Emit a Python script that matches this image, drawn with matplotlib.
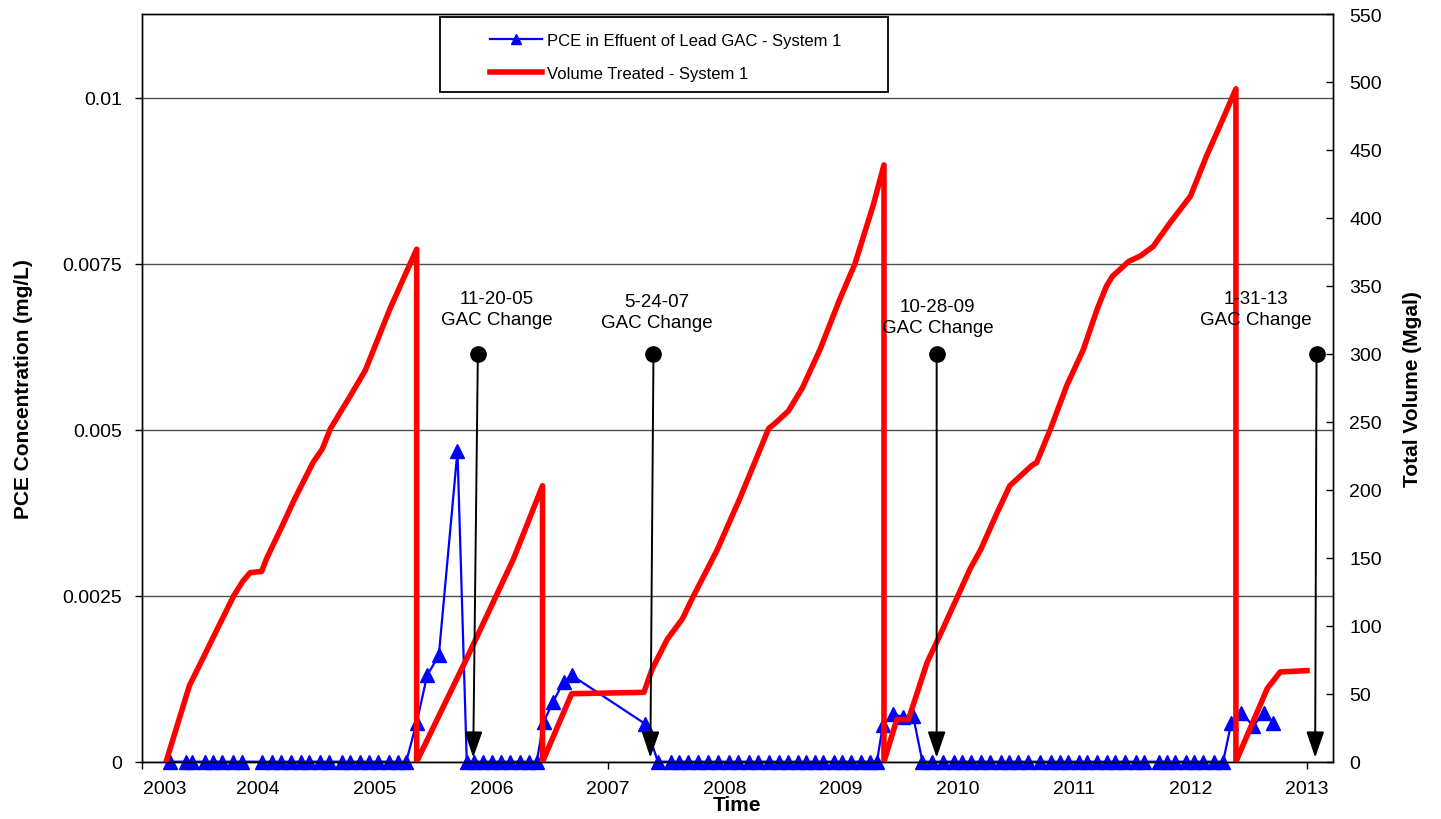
import numpy as np
import matplotlib
matplotlib.use("Agg")
import matplotlib.pyplot as plt
from matplotlib.patches import Rectangle
from matplotlib.transforms import ScaledTranslation

plt.rcParams['font.family'] = ['Liberation Sans', 'DejaVu Sans']

# PCE in effluent of lead GAC (decimal year, mg/L)
pce_years = [2003.24, 2003.38, 2003.43, 2003.54, 2003.61, 2003.69, 2003.78, 2003.86,
             2004.03, 2004.12, 2004.20, 2004.28, 2004.37, 2004.44, 2004.53, 2004.61,
             2004.72, 2004.79, 2004.87, 2004.95, 2005.03, 2005.12, 2005.20, 2005.27,
             2005.36, 2005.45, 2005.55, 2005.71,
             2005.79, 2005.85, 2005.93, 2006.01, 2006.08, 2006.16, 2006.25, 2006.32, 2006.39,
             2006.45, 2006.53, 2006.62, 2006.69, 2007.32,
             2007.43, 2007.54, 2007.61, 2007.69, 2007.77, 2007.86, 2007.95, 2008.04,
             2008.12, 2008.21, 2008.29, 2008.38, 2008.47, 2008.55, 2008.63, 2008.70,
             2008.78, 2008.85, 2008.94, 2009.01, 2009.09, 2009.17, 2009.25, 2009.31,
             2009.36, 2009.45, 2009.53, 2009.62,
             2009.70, 2009.78, 2009.88, 2009.97, 2010.04, 2010.12, 2010.20, 2010.28,
             2010.37, 2010.44, 2010.52, 2010.61, 2010.71, 2010.80, 2010.88, 2010.95,
             2011.04, 2011.11, 2011.20, 2011.28, 2011.35, 2011.44, 2011.53, 2011.60,
             2011.73, 2011.80, 2011.87, 2011.96, 2012.03, 2012.11, 2012.20, 2012.28,
             2012.35, 2012.43, 2012.54, 2012.63, 2012.71]
pce_conc = [0]*24 + [0.00059, 0.0013, 0.0016, 0.00468] + [0]*9 + \
           [0.0006, 0.0009, 0.0012, 0.0013, 0.00057] + [0]*24 + \
           [0.00055, 0.00072, 0.00067, 0.00069] + [0]*32 + \
           [0.00058, 0.00074, 0.00054, 0.00074, 0.00059]

# volume treated (decimal year, Mgal)
vol_years = [2003.21, 2003.41, 2003.52, 2003.64, 2003.79, 2003.87, 2003.93, 2004.03,
             2004.07, 2004.22, 2004.30, 2004.47, 2004.55, 2004.62, 2004.79, 2004.92,
             2005.13, 2005.36, 2005.36,
             2005.79, 2006.19, 2006.44, 2006.44,
             2006.69, 2007.31, 2007.38, 2007.51, 2007.64, 2007.73, 2007.94, 2008.14,
             2008.38, 2008.45, 2008.55, 2008.67, 2008.82, 2008.99, 2009.12, 2009.28,
             2009.37, 2009.37,
             2009.48, 2009.58, 2009.74, 2009.85, 2010.02, 2010.11, 2010.20, 2010.34,
             2010.45, 2010.64, 2010.68, 2010.80, 2010.94, 2011.08, 2011.20, 2011.28,
             2011.33, 2011.47, 2011.57, 2011.68, 2011.83, 2012.00, 2012.14, 2012.28,
             2012.39, 2012.39,
             2012.66, 2012.77, 2013.00]
vol_mgal = [0, 56, 75, 96, 122, 133, 139, 140,
            149, 176, 191, 220, 230, 245, 269, 288,
            333, 377, 0,
            76, 149, 203, 0,
            50, 51, 68, 90, 105, 121, 156, 195,
            245, 250, 258, 275, 303, 340, 366, 410,
            439, 0,
            31, 31, 73, 93, 125, 142, 156, 183,
            203, 218, 220, 245, 277, 303, 333, 350,
            357, 368, 372, 379, 397, 416, 446, 473,
            495, 0,
            54, 66, 67]

# GAC change events
gac_labels = ['11-20-05', '5-24-07', '10-28-09', '1-31-13']
gac_years = [2005.885, 2007.392, 2009.822, 2013.082]
gac_tips = [2005.845, 2007.365, 2009.822, 2013.07]
gac_text_x = [2006.05, 2007.42, 2009.83, 2012.56]
gac_text_y = [333, 331, 327, 333]

year_ticks = list(range(2003, 2014))
conc_ticks = [0, 0.0025, 0.005, 0.0075, 0.01]
conc_labels = ['0', '0.0025', '0.005', '0.0075', '0.01']
vol_ticks = list(range(0, 551, 50))

fig = plt.figure(figsize=(14.41, 8.2), dpi=100)
ax = fig.add_axes([0.0983, 0.0699, 0.8265, 0.9118])
ax2 = ax.twinx()

l1, = ax.plot(pce_years, pce_conc, color='#0000FF', lw=1.6, marker='^', ms=10,
              mec='#0000FF', mfc='#0000FF', clip_on=False, zorder=3)
l2, = ax2.plot(vol_years, vol_mgal, color='#FF0000', lw=4, solid_joinstyle='round', zorder=3)

ax.set_xlim(2003, 2013.22)
ax.set_ylim(0, 0.01126)
ax2.set_ylim(0, 550)

ax.set_xticks(year_ticks)
ax.set_xticklabels([str(y) for y in year_ticks])
ax.set_yticks(conc_ticks)
ax.set_yticklabels(conc_labels)
ax2.set_yticks(vol_ticks)

ax.tick_params(axis='x', direction='out', length=5, width=1, labelsize=14, pad=8)
ax.tick_params(axis='y', direction='out', length=5, width=1, labelsize=14, pad=9)
ax2.tick_params(axis='y', direction='in', length=5, width=1, labelsize=14, pad=12)

# first year label sits shifted right of the axis corner
lab0 = ax.get_xticklabels()[0]
lab0.set_transform(lab0.get_transform() + ScaledTranslation(0.23, 0, fig.dpi_scale_trans))

ax.yaxis.grid(True, color='#4d4d4d', lw=1)
ax.set_axisbelow(True)
for s in list(ax.spines.values()) + list(ax2.spines.values()):
    s.set_linewidth(1)
    s.set_color('black')

ax.set_xlabel('Time', fontsize=15, fontweight='bold', labelpad=-1)
ax.set_ylabel('PCE Concentration (mg/L)', fontsize=15, fontweight='bold', labelpad=21)
ax2.set_ylabel('Total Volume (Mgal)', fontsize=15, fontweight='bold', labelpad=15)

# GAC change markers
for lab, d, tip, tx, ty in zip(gac_labels, gac_years, gac_tips, gac_text_x, gac_text_y):
    ax2.annotate('', xy=(tip, 3), xytext=(d, 300),
                 arrowprops=dict(arrowstyle='-|>,head_length=1.6,head_width=0.55',
                                 mutation_scale=10, color='black', lw=1.4,
                                 shrinkA=0, shrinkB=0), zorder=4)
    ax2.text(tx, ty, lab + '\nGAC Change', ha='center', va='center', fontsize=13.5,
             linespacing=1.3, zorder=5)
ax2.plot(gac_years, [300]*len(gac_years), 'o', color='black', ms=11, zorder=6, clip_on=False)

# legend box
ax2.add_patch(Rectangle((0.2505, 0.8957), 0.3761, 0.1003, transform=ax2.transAxes,
                        facecolor='white', edgecolor='black', lw=1.3, zorder=7))
leg = ax2.legend([l1, l2], ['PCE in Effuent of Lead GAC - System 1', 'Volume Treated - System 1'],
                 loc='center left', bbox_to_anchor=(0.2924, 0.9425), frameon=False,
                 fontsize=12, handlelength=3.1, handletextpad=0.35, labelspacing=1.1,
                 borderpad=0, borderaxespad=0, markerscale=0.7)
leg.set_zorder(8)

fig.savefig('out.png', dpi=100)
